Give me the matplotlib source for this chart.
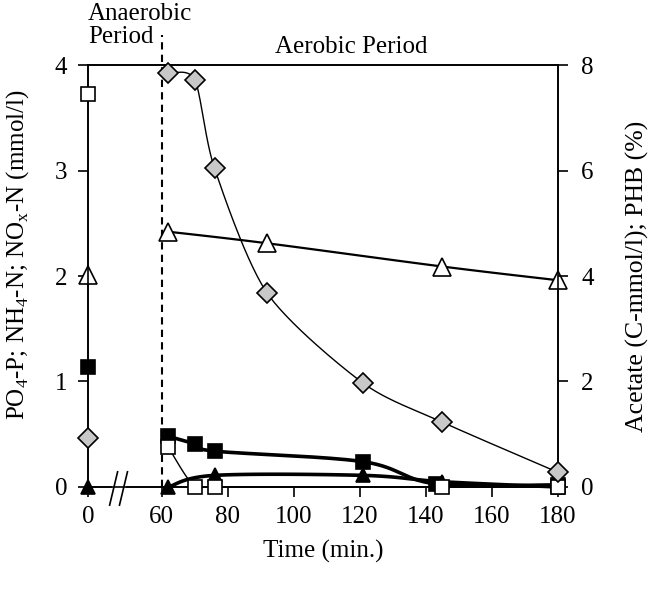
#!/usr/bin/env python

import numpy as np
import matplotlib
matplotlib.use("Agg")
import matplotlib.pyplot as plt
from matplotlib.patches import Rectangle
from matplotlib.lines import Line2D

plt.rcParams["font.family"] = "Liberation Serif"
plt.rcParams["mathtext.fontset"] = "custom"
plt.rcParams["mathtext.rm"] = "Liberation Serif"
plt.rcParams["font.size"] = 18

# data (time in min)
t_start = [0]
t_aer = [62, 70, 76, 92, 121, 145, 180]

# left axis (mmol/l)
po4_0 = [1.14]
t_po4 = [62, 70, 76, 121, 143, 180]
po4 = [0.48, 0.41, 0.34, 0.24, 0.03, 0.02]

nh4_0 = [2.01]
t_nh4 = [62, 92, 145, 180]
nh4 = [2.42, 2.31, 2.09, 1.96]

nox_0 = [0.0]
t_nox = [62, 76, 121, 145, 180]
nox = [0.0, 0.11, 0.11, 0.05, 0.0]

# right axis (C-mmol/l ; %)
ac_0 = [7.46]
t_ac = [62, 70, 76, 145, 180]
ac = [0.75, 0.0, 0.0, 0.0, 0.0]

phb_0 = [0.93]
phb = [7.84, 7.72, 6.04, 3.67, 1.97, 1.23, 0.28]

xticks = [0, 60, 80, 100, 120, 140, 160, 180]

# broken time axis: 0..60 squeezed into a short gap
GAP = 22.35
def fwd(t):
    t = np.asarray(t, dtype=float)
    return np.where(t < 60, t * GAP / 60.0, GAP + (t - 60))

def inv(p):
    p = np.asarray(p, dtype=float)
    return np.where(p < GAP, p * 60.0 / GAP, p - GAP + 60)

XSPAN = fwd(180) - fwd(0)

# excel-like smoothed line (bezier through the points, in screen-ish units)
def smooth(x, y, ytop, n=30, k=0.5):
    px = (np.asarray(x, float) - 60) / XSPAN * 470
    py = np.asarray(y, float) / ytop * 422
    P = np.column_stack([px, py])
    P = np.vstack([P[0], P, P[-1]])
    out = []
    for i in range(1, len(P) - 2):
        p0, p1, p2, p3 = P[i - 1], P[i], P[i + 1], P[i + 2]
        c1 = p1 + (p2 - p0) * k / 3
        c2 = p2 - (p3 - p1) * k / 3
        s = np.linspace(0, 1, n)[:, None]
        c = (1 - s)**3 * p1 + 3 * (1 - s)**2 * s * c1 + 3 * (1 - s) * s**2 * c2 + s**3 * p2
        out.append(c)
    c = np.vstack(out)
    return c[:, 0] / 470 * XSPAN + 60, c[:, 1] / 422 * ytop

fig = plt.figure(figsize=(6.51, 5.89), dpi=100)
ax = fig.add_axes([0.1352, 0.1732, 0.7215, 0.7164])
ax.set_xscale("function", functions=(fwd, inv))
ax.set_xlim(0, 180)
ax.set_ylim(0, 4)
ax2 = ax.twinx()
ax2.set_ylim(0, 8)

mk = dict(linestyle="none", markeredgecolor="k", markeredgewidth=1.2, clip_on=False, zorder=5)

# left axis series
xs, ys = smooth(t_po4, po4, 4)
ax.plot(xs, ys, color="k", lw=2.6, clip_on=False)
ax.plot(t_start + t_po4, po4_0 + po4, marker="s", markersize=10.5, markerfacecolor="k", **mk)

xs, ys = smooth(t_nh4, nh4, 4)
ax.plot(xs, ys, color="k", lw=1.6)
ax.plot(t_start + t_nh4, nh4_0 + nh4, marker="^", markersize=13, markerfacecolor="white", **mk)

xs, ys = smooth(t_nox, nox, 4)
ax.plot(xs, ys, color="k", lw=2.6, clip_on=False)
ax.plot(t_start + t_nox, nox_0 + nox, marker="^", markersize=10, markerfacecolor="k", **mk)

# right axis series
xs, ys = smooth(t_ac, ac, 8)
ax2.plot(xs, ys, color="k", lw=1.0, clip_on=False)
ax2.plot(t_start + t_ac, ac_0 + ac, marker="s", markersize=10.5, markerfacecolor="white", **mk)

xs, ys = smooth(t_aer, phb, 8, k=0.4)
ax2.plot(xs, ys, color="k", lw=1.0)
ax2.plot(t_start + t_aer, phb_0 + phb, marker="D", markersize=10.5, markerfacecolor="#c8c8c8", **mk)

# start of aerobic period
ax.axvline(60, ymin=0, ymax=1.072, clip_on=False, color="k", lw=1.5, ls=(0, (3.5, 2.5)), zorder=1)

# axes styling
ax.set_xticks(xticks)
ax.set_xticklabels([str(v) for v in xticks])
ax.set_yticks([0, 1, 2, 3, 4])
ax2.set_yticks([0, 2, 4, 6, 8])
ax.tick_params(direction="out", length=7, width=1.2, pad=7)
ax.tick_params(axis="y", pad=8)
ax2.tick_params(direction="out", length=7, width=1.2, pad=10)
for a in (ax, ax2):
    for sp in a.spines.values():
        sp.set_linewidth(1.2)

ax.set_xlabel("Time (min.)", labelpad=8)
ax.set_ylabel(r"PO$_\mathrm{4}$-P; NH$_\mathrm{4}$-N; NO$_\mathrm{x}$-N (mmol/l)")
ax.yaxis.set_label_coords(-0.121, 0.55)
ax2.set_ylabel("Acetate (C-mmol/l); PHB (%)", fontsize=18.5)
ax2.yaxis.set_label_coords(1.145, 0.5)

# axis break marks
tr = ax.transAxes
ax.add_patch(Rectangle((0.052, -0.02), 0.028, 0.04, transform=tr, facecolor="white",
                       edgecolor="none", clip_on=False, zorder=6))
for x0 in (0.046, 0.067):
    ax.add_line(Line2D([x0, x0 + 0.017], [-0.043, 0.036], transform=tr, color="k",
                       lw=1.2, clip_on=False, zorder=7))

fig.text(0.135, 0.995, "Anaerobic\nPeriod", ha="left", va="top", linespacing=1.05)
fig.text(0.54, 0.92, "Aerobic Period", ha="center", va="center")

plt.savefig("out.png", dpi=100)
